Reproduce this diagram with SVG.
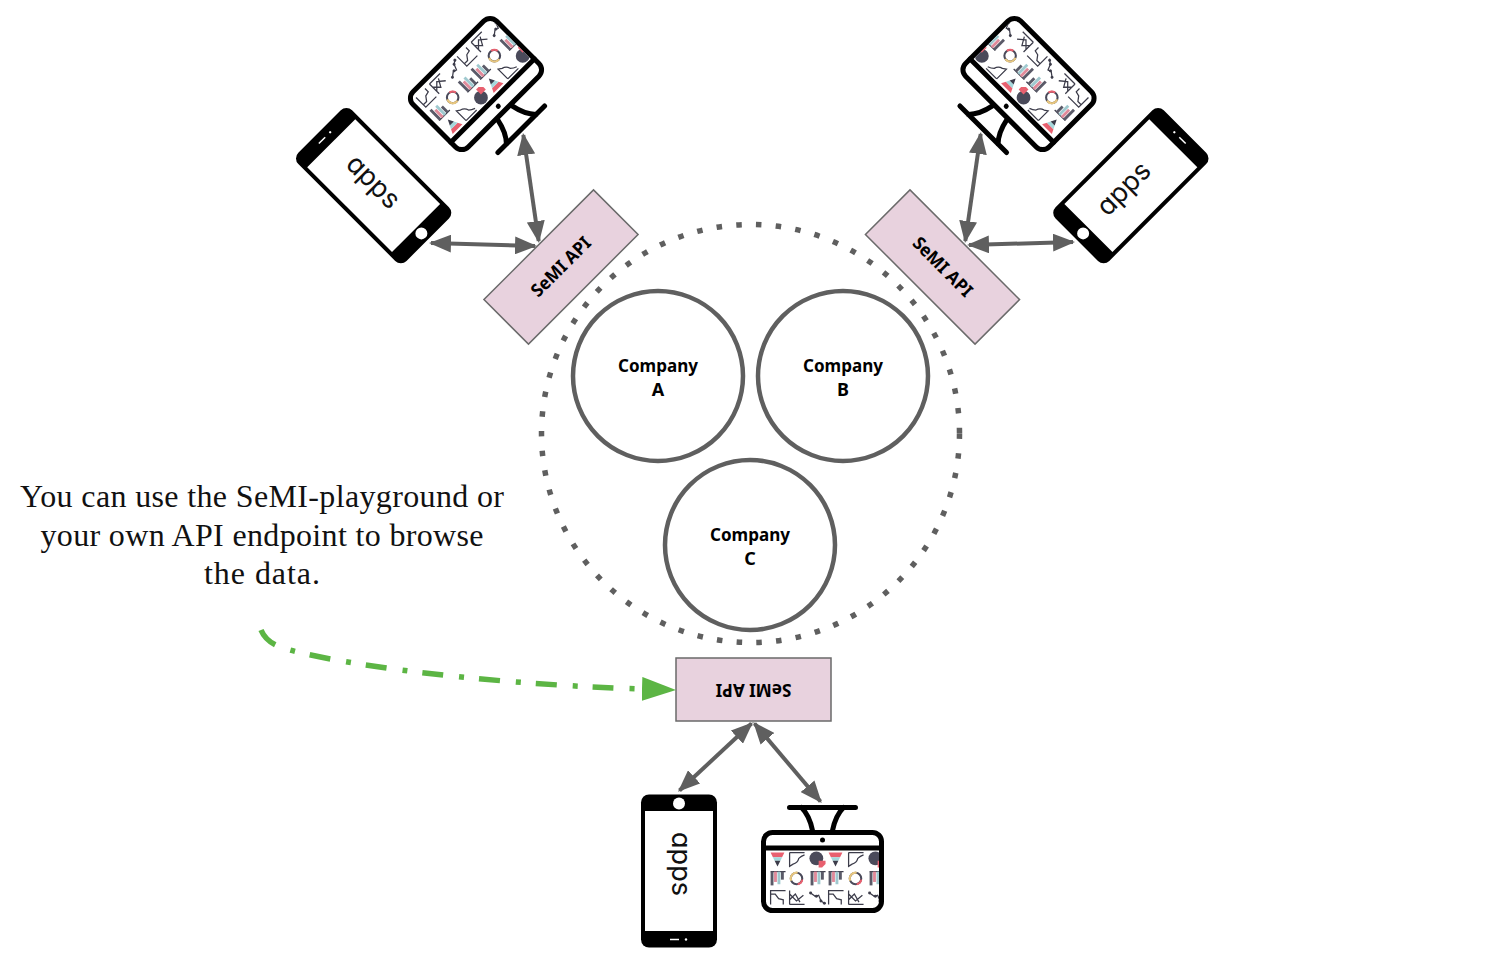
<svg xmlns="http://www.w3.org/2000/svg" xmlns:xlink="http://www.w3.org/1999/xlink" width="1485" height="953" viewBox="0 0 1485 953">
<style>
.co{font:700 18px "Noto Sans","Open Sans",sans-serif;fill:#000;text-anchor:middle}
.api{fill:#e8d2de;stroke:#6a6a6a;stroke-width:1.5}
.apit{font:700 18px "Noto Sans","Open Sans",sans-serif;fill:#000;text-anchor:middle}
.ring{fill:#fff;stroke:#5f5f5f;stroke-width:4.5}
.note{font:32px "Liberation Serif",serif;fill:#111;text-anchor:middle}
.apps{font:400 27px Inter,Lato,sans-serif;font-feature-settings:"cv11";fill:#111;text-anchor:middle}
.arr{fill:none;stroke:#5f5f5f;stroke-width:4;marker-start:url(#ah);marker-end:url(#ah)}
.k{fill:none;stroke:#000;stroke-width:5;stroke-linecap:round}
.i{fill:none;stroke:#3c3c4a;stroke-width:1.1}
</style>
<defs>
<marker id="ah" viewBox="0 0 22 18" refX="20" refY="9" markerWidth="22" markerHeight="18" markerUnits="userSpaceOnUse" orient="auto-start-reverse"><path d="M0 0L22 9L0 18z" fill="#5f5f5f"/></marker>
<marker id="gh" viewBox="0 0 34 24" refX="2" refY="12" markerWidth="34" markerHeight="24" markerUnits="userSpaceOnUse" orient="auto"><path d="M0 0L34 12L0 24z" fill="#5cb544"/></marker>
<clipPath id="scr"><rect x="-56" y="-21" width="112.5" height="58"/></clipPath>
<g id="funnel" transform="scale(1.150)"><path d="M-6-6H6L4-2H-4z" fill="#e8606f"/><path d="M-4-2H4L2.500 1H-2.500z" fill="#a5d8dc"/><path d="M-2.500 1H2.500L0 6z" fill="#3c3c4a"/></g>
<path id="line" class="i" transform="scale(1.150)" d="M-6-6V6L-3 4Q1 3 2-1Q4-3 7-4M-6-6H7"/>
<g id="pie" transform="scale(1.150)"><circle r="6" cx="-1" cy="-1" fill="#4a4a5a"/><path d="M1 1H7V4L4 7H1z" fill="#e8606f"/></g>
<g id="bars" transform="scale(1.150)"><path d="M-6-6H7" class="i"/><rect x="-6" y="-6" width="2.500" height="12" fill="#5a5a68"/><rect x="-3" y="-6" width="2.500" height="9" fill="#e08a9a"/><rect x="0" y="-6" width="2.500" height="11" fill="#9fc9cf"/><rect x="3" y="-6" width="2.500" height="7" fill="#5a5a68"/></g>
<g id="donut" transform="scale(1.150)"><circle r="5" fill="none" stroke="#4a4a5a" stroke-width="1.800"/><path d="M-4.500 2A5 5 0 0 1 1-5" fill="none" stroke="#e8c77f" stroke-width="1.800"/><path d="M1 5A5 5 0 0 0 5 1" fill="none" stroke="#e8606f" stroke-width="1.800"/></g>
<path id="area" class="i" transform="scale(1.150)" d="M-6 6V-6H7M-6-3L-2-3L1 1L5 2V6"/>
<path id="radar" class="i" transform="scale(1.150)" d="M-6 6V-6M-6 6H7M-6-3L0 3L6-2M-6 2L-1-3L3 4"/>
<g id="zig" transform="scale(1.150)"><path class="i" d="M-6-4L-2-1L1-2L3 3L6 5"/><circle cx="-6" cy="-4" r="1.300" fill="#3c3c4a"/><circle cx="-1" cy="-1" r="1.300" fill="#3c3c4a"/><circle cx="3" cy="3" r="1.300" fill="#3c3c4a"/><circle cx="6" cy="5" r="1.300" fill="#3c3c4a"/></g>
<g id="monitor">
<rect x="-59" y="-39" width="118" height="78" rx="9" fill="#fff" stroke="#000" stroke-width="5"/>
<path class="k" stroke-linecap="butt" d="M-59-23.500H59"/>
<circle cy="-31.500" r="2.500" fill="#000"/>
<path class="k" d="M-33-64H33M-21-64Q-13-56-10-41M21-64Q13-56 10-41"/>
<g clip-path="url(#scr)">
<use href="#funnel" x="-45" y="-12"/><use href="#line" x="-26" y="-12"/><use href="#pie" x="-5" y="-12"/><use href="#funnel" x="13" y="-12"/><use href="#line" x="33" y="-12"/><use href="#pie" x="54" y="-12"/>
<use href="#bars" x="-45" y="7"/><use href="#donut" x="-26" y="7"/><use href="#bars" x="-5" y="7"/><use href="#bars" x="13" y="7"/><use href="#donut" x="33" y="7"/><use href="#bars" x="54" y="7"/>
<use href="#area" x="-45" y="26"/><use href="#radar" x="-26" y="26"/><use href="#zig" x="-5" y="26"/><use href="#area" x="13" y="26"/><use href="#radar" x="33" y="26"/><use href="#zig" x="54" y="26"/>
</g>
</g>
<g id="phone">
<rect x="-38" y="-76" width="76" height="153" rx="8" fill="#000"/>
<rect x="-34" y="-59.500" width="68" height="120" fill="#fff"/>
<circle cy="-67" r="6" fill="#fff"/>
<path d="M-9 69H0" stroke="#fff" stroke-width="1.500"/>
<circle cx="7" cy="69" r="1.200" fill="#fff"/>
</g>
</defs>
<rect width="1485" height="953" fill="#fff"/>
<circle id="boundary" cx="750.500" cy="433.500" r="209" fill="none" stroke="#5f5f5f" stroke-width="5.500" stroke-dasharray="5.500 14.300"/>
<g id="company-a"><circle class="ring" cx="658" cy="376" r="85"/><text class="co" x="658" y="372" textLength="80" lengthAdjust="spacingAndGlyphs">Company</text><text class="co" x="658" y="396">A</text></g>
<g id="company-b"><circle class="ring" cx="843" cy="376" r="85"/><text class="co" x="843" y="372" textLength="80" lengthAdjust="spacingAndGlyphs">Company</text><text class="co" x="843" y="396">B</text></g>
<g id="company-c"><circle class="ring" cx="750" cy="545" r="85"/><text class="co" x="750" y="541" textLength="80" lengthAdjust="spacingAndGlyphs">Company</text><text class="co" x="750" y="565">C</text></g>
<g id="api-left" transform="translate(561 267) rotate(-45)"><rect class="api" x="-77.500" y="-31.500" width="155" height="63"/><text class="apit" y="6" textLength="76" lengthAdjust="spacingAndGlyphs">SeMI API</text></g>
<g id="api-right" transform="translate(942.500 267) rotate(45)"><rect class="api" x="-77.500" y="-31.500" width="155" height="63"/><text class="apit" y="6" textLength="76" lengthAdjust="spacingAndGlyphs">SeMI API</text></g>
<g id="api-bottom" transform="translate(753.500 689.500) rotate(180)"><rect class="api" x="-77.500" y="-31.500" width="155" height="63"/><text class="apit" y="6" textLength="76" lengthAdjust="spacingAndGlyphs">SeMI API</text></g>
<g id="monitor-left"><use href="#monitor" transform="translate(476 84) scale(-1 1) rotate(-135)"/></g>
<g id="monitor-right"><use href="#monitor" transform="translate(1028.500 84) rotate(-135)"/></g>
<g id="monitor-bottom"><use href="#monitor" transform="translate(822.500 871.500)"/></g>
<g id="phone-left"><use href="#phone" transform="translate(374 186) scale(-1 1) rotate(-135)"/><text class="apps" transform="translate(372 183) rotate(45)" y="7">apps</text></g>
<g id="phone-right"><use href="#phone" transform="translate(1130.500 186) rotate(-135)"/><text class="apps" transform="translate(1125 190) rotate(-45)" y="7">apps</text></g>
<g id="phone-bottom"><use href="#phone" transform="translate(679 870.500)"/><text class="apps" transform="translate(679 864) rotate(90)" y="7">apps</text></g>
<g id="connectors">
<path class="arr" d="M523.300 135L538.700 241"/>
<path class="arr" d="M431 243L535 246"/>
<path class="arr" d="M980.700 134L965.300 241"/>
<path class="arr" d="M969 245L1073 242"/>
<path class="arr" d="M751.500 723.500L679.500 790.500"/>
<path class="arr" d="M754.500 723.500L820.500 801.500"/>
<path d="M261 630C266 642 276 646 290 650C340 664 480 684 644 689" fill="none" stroke="#5cb544" stroke-width="5.500" stroke-dasharray="21 16 5 15" marker-end="url(#gh)"/>
</g>
<g id="note">
<text class="note" x="262" y="507" textLength="484">You can use the SeMI-playground or</text>
<text class="note" x="262" y="546" textLength="443">your own API endpoint to browse</text>
<text class="note" x="262" y="584" textLength="116">the data.</text>
</g>
</svg>
